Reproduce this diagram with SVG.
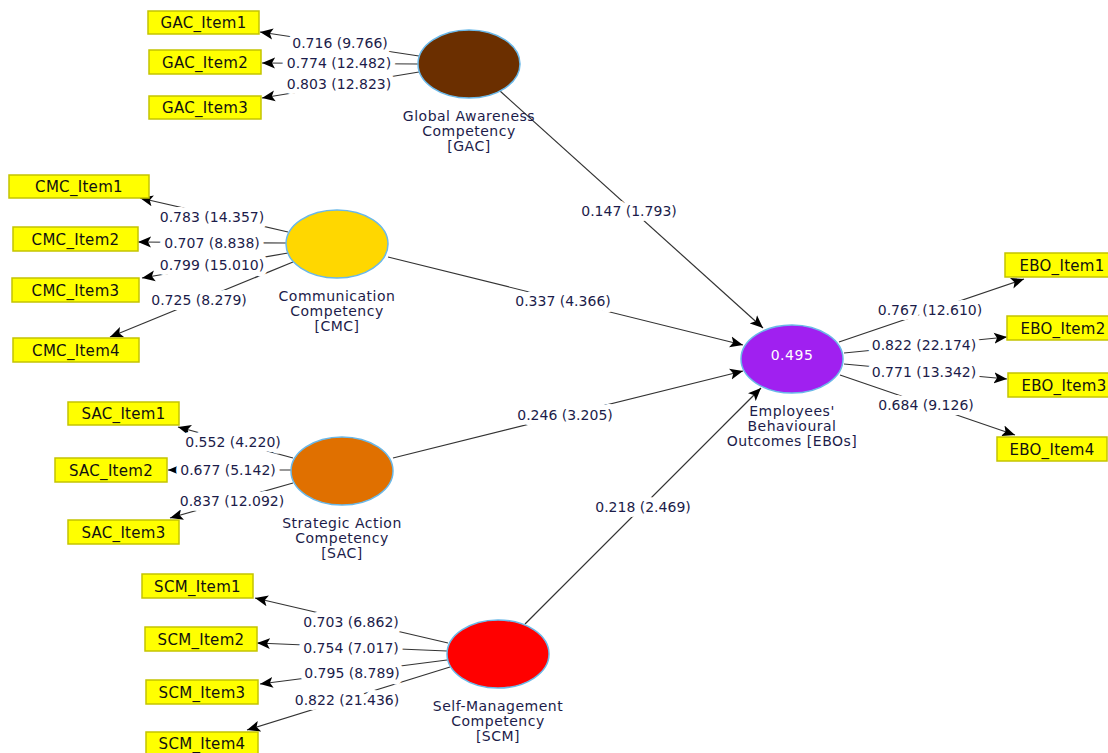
<svg xmlns="http://www.w3.org/2000/svg" width="1108" height="753" viewBox="0 0 1108 753">
<defs>
<marker id="ah" markerUnits="userSpaceOnUse" markerWidth="14" markerHeight="12" refX="13" refY="6" orient="auto">
<path d="M0,0.5 L13,6 L0,11.5 L3,6 z" fill="#000"/>
</marker>
<style>
.ln{stroke:#333;stroke-width:1.2;fill:none;marker-end:url(#ah)}
.lb{font-family:"DejaVu Sans",Verdana,sans-serif;font-size:14px;fill:#1c1c4a;text-anchor:middle;stroke:#fff;stroke-width:10;paint-order:stroke;stroke-linejoin:round}
.nl{font-family:"DejaVu Sans",Verdana,sans-serif;font-size:14px;letter-spacing:0.5px;fill:#1c1c4a;text-anchor:middle}
.bx{fill:#ffff00;stroke:#c4c400;stroke-width:1.5}
.bt{font-family:"DejaVu Sans",Verdana,sans-serif;font-size:15px;letter-spacing:0.3px;fill:#111;text-anchor:middle}
.cr{stroke:#6ab8e8;stroke-width:1.5}
</style>
</defs>
<rect width="1108" height="753" fill="#fff"/>
<g id="connectors">
<line class="ln" x1="419" y1="56" x2="260" y2="32"/>
<line class="ln" x1="418" y1="64" x2="262" y2="63"/>
<line class="ln" x1="419" y1="72" x2="262" y2="98"/>
<line class="ln" x1="288" y1="232" x2="140" y2="198"/>
<line class="ln" x1="287" y1="243" x2="138" y2="242"/>
<line class="ln" x1="288" y1="253" x2="142" y2="278"/>
<line class="ln" x1="293" y1="262" x2="110" y2="337"/>
<line class="ln" x1="293" y1="458" x2="178" y2="427"/>
<line class="ln" x1="291" y1="470" x2="168" y2="470"/>
<line class="ln" x1="293" y1="483" x2="170" y2="518"/>
<line class="ln" x1="448" y1="643" x2="255" y2="598"/>
<line class="ln" x1="447" y1="651" x2="257" y2="643"/>
<line class="ln" x1="447" y1="660" x2="260" y2="684"/>
<line class="ln" x1="450" y1="667" x2="247" y2="730"/>
<line class="ln" x1="839" y1="342" x2="1024" y2="279"/>
<line class="ln" x1="844" y1="353" x2="1007" y2="337"/>
<line class="ln" x1="844" y1="364" x2="1007" y2="379"/>
<line class="ln" x1="840" y1="375" x2="1015" y2="435"/>
<line class="ln" x1="500" y1="91" x2="763" y2="328"/>
<line class="ln" x1="388" y1="257" x2="743" y2="345"/>
<line class="ln" x1="393" y1="458" x2="743" y2="371"/>
<line class="ln" x1="525" y1="624" x2="761" y2="388"/>
<text class="lb" x="340" y="48">0.716 (9.766)</text>
<text class="lb" x="339" y="68">0.774 (12.482)</text>
<text class="lb" x="339" y="89">0.803 (12.823)</text>
<text class="lb" x="212" y="222">0.783 (14.357)</text>
<text class="lb" x="212" y="248">0.707 (8.838)</text>
<text class="lb" x="212" y="270">0.799 (15.010)</text>
<text class="lb" x="199" y="305">0.725 (8.279)</text>
<text class="lb" x="233" y="447">0.552 (4.220)</text>
<text class="lb" x="228" y="475">0.677 (5.142)</text>
<text class="lb" x="232" y="506">0.837 (12.092)</text>
<text class="lb" x="351" y="627">0.703 (6.862)</text>
<text class="lb" x="351" y="653">0.754 (7.017)</text>
<text class="lb" x="352" y="678">0.795 (8.789)</text>
<text class="lb" x="347" y="705">0.822 (21.436)</text>
<text class="lb" x="930" y="315">0.767 (12.610)</text>
<text class="lb" x="924" y="350">0.822 (22.174)</text>
<text class="lb" x="924" y="377">0.771 (13.342)</text>
<text class="lb" x="926" y="410">0.684 (9.126)</text>
<text class="lb" x="629" y="216">0.147 (1.793)</text>
<text class="lb" x="563" y="306">0.337 (4.366)</text>
<text class="lb" x="565" y="420">0.246 (3.205)</text>
<text class="lb" x="643" y="512">0.218 (2.469)</text>
</g>
<g id="GAC">
<ellipse class="cr" cx="469" cy="64" rx="51" ry="34" fill="#6b2f00"/>
<text class="nl" x="469" y="121">Global Awareness</text>
<text class="nl" x="469" y="136">Competency</text>
<text class="nl" x="469" y="151">[GAC]</text>
</g>
<g id="CMC">
<ellipse class="cr" cx="337" cy="244" rx="51" ry="34" fill="#ffd700"/>
<text class="nl" x="337" y="301">Communication</text>
<text class="nl" x="337" y="316">Competency</text>
<text class="nl" x="337" y="331">[CMC]</text>
</g>
<g id="SAC">
<ellipse class="cr" cx="342" cy="471" rx="51" ry="34" fill="#e07000"/>
<text class="nl" x="342" y="528">Strategic Action</text>
<text class="nl" x="342" y="543">Competency</text>
<text class="nl" x="342" y="558">[SAC]</text>
</g>
<g id="SCM">
<ellipse class="cr" cx="498" cy="654" rx="51" ry="34" fill="#ff0000"/>
<text class="nl" x="498" y="711">Self-Management</text>
<text class="nl" x="498" y="726">Competency</text>
<text class="nl" x="498" y="741">[SCM]</text>
</g>
<g id="EBO">
<ellipse class="cr" cx="792" cy="359" rx="51" ry="34" fill="#a020f0"/>
<text class="nl" x="792" y="360" style="fill:#fff">0.495</text>
<text class="nl" x="792" y="416">Employees'</text>
<text class="nl" x="792" y="431">Behavioural</text>
<text class="nl" x="792" y="446">Outcomes [EBOs]</text>
</g>
<g id="GAC_Item1"><rect class="bx" x="148" y="11" width="111" height="23"/><text class="bt" x="203.5" y="28">GAC_Item1</text></g>
<g id="GAC_Item2"><rect class="bx" x="149" y="50" width="112" height="24"/><text class="bt" x="205" y="67.5">GAC_Item2</text></g>
<g id="GAC_Item3"><rect class="bx" x="149" y="96" width="112" height="23"/><text class="bt" x="205" y="113">GAC_Item3</text></g>
<g id="CMC_Item1"><rect class="bx" x="9" y="175" width="140" height="23"/><text class="bt" x="79" y="192">CMC_Item1</text></g>
<g id="CMC_Item2"><rect class="bx" x="13" y="227" width="125" height="24"/><text class="bt" x="75.5" y="244.5">CMC_Item2</text></g>
<g id="CMC_Item3"><rect class="bx" x="12" y="278" width="127" height="24"/><text class="bt" x="75.5" y="295.5">CMC_Item3</text></g>
<g id="CMC_Item4"><rect class="bx" x="13" y="338" width="126" height="24"/><text class="bt" x="76" y="355.5">CMC_Item4</text></g>
<g id="SAC_Item1"><rect class="bx" x="68" y="402" width="111" height="23"/><text class="bt" x="123.5" y="419">SAC_Item1</text></g>
<g id="SAC_Item2"><rect class="bx" x="55" y="458" width="112" height="24"/><text class="bt" x="111" y="475.5">SAC_Item2</text></g>
<g id="SAC_Item3"><rect class="bx" x="68" y="520" width="111" height="24"/><text class="bt" x="123.5" y="537.5">SAC_Item3</text></g>
<g id="SCM_Item1"><rect class="bx" x="142" y="574" width="111" height="24"/><text class="bt" x="197.5" y="591.5">SCM_Item1</text></g>
<g id="SCM_Item2"><rect class="bx" x="145" y="627" width="112" height="24"/><text class="bt" x="201" y="644.5">SCM_Item2</text></g>
<g id="SCM_Item3"><rect class="bx" x="146" y="680" width="112" height="24"/><text class="bt" x="202" y="697.5">SCM_Item3</text></g>
<g id="SCM_Item4"><rect class="bx" x="146" y="732" width="112" height="22"/><text class="bt" x="202" y="749">SCM_Item4</text></g>
<g id="EBO_Item1"><rect class="bx" x="1005" y="253" width="110" height="24"/><text class="bt" x="1062" y="270.5">EBO_Item1</text></g>
<g id="EBO_Item2"><rect class="bx" x="1007" y="316" width="110" height="24"/><text class="bt" x="1063" y="333.5">EBO_Item2</text></g>
<g id="EBO_Item3"><rect class="bx" x="1008" y="373" width="110" height="24"/><text class="bt" x="1064" y="390.5">EBO_Item3</text></g>
<g id="EBO_Item4"><rect class="bx" x="997" y="437" width="110" height="24"/><text class="bt" x="1052" y="454.5">EBO_Item4</text></g>
</svg>
